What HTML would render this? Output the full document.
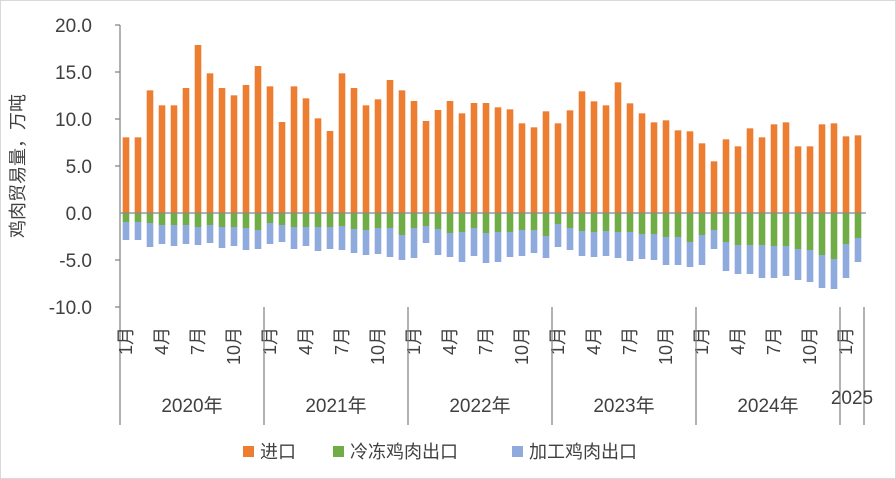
<!DOCTYPE html>
<html><head><meta charset="utf-8"><style>
html,body{margin:0;padding:0;background:#fff}
svg{display:block;font-family:"Liberation Sans","Noto Sans CJK SC",sans-serif}
</style></head><body>
<svg id="c" width="896" height="479" viewBox="0 0 896 479" xmlns="http://www.w3.org/2000/svg">
<rect x="0.5" y="0.5" width="895" height="478" fill="#fff" stroke="#d9d9d9"/>
<g font-size="19" fill="#404040" text-anchor="end">
<text x="92" y="32">20.0</text>
<text x="92" y="79">15.0</text>
<text x="92" y="126">10.0</text>
<text x="92" y="173">5.0</text>
<text x="92" y="220">0.0</text>
<text x="92" y="267">-5.0</text>
<text x="92" y="314">-10.0</text>
</g>
<text transform="translate(24,166) rotate(-90)" font-size="18" fill="#404040" text-anchor="middle">鸡肉贸易量，万吨</text>
<g id="bars"></g>
<line x1="120" y1="25" x2="120" y2="425" stroke="#888" stroke-width="1.3"/>
<g stroke="#888" stroke-width="1.3">
<line x1="115" y1="25" x2="120" y2="25"/><line x1="115" y1="72" x2="120" y2="72"/><line x1="115" y1="119" x2="120" y2="119"/><line x1="115" y1="166" x2="120" y2="166"/><line x1="115" y1="260" x2="120" y2="260"/><line x1="115" y1="307" x2="120" y2="307"/>
<line x1="120" y1="213" x2="866" y2="213"/>
</g>
<g id="xl" font-size="18" fill="#404040"></g>
<g font-size="19" fill="#404040" text-anchor="middle">
<text x="192" y="412">2020年</text><text x="336" y="412">2021年</text><text x="480" y="412">2022年</text><text x="624" y="412">2023年</text><text x="768" y="412">2024年</text><text x="852" y="404">2025</text>
</g>
<g font-size="18" fill="#404040">
<rect x="243" y="446" width="11" height="11" fill="#ed7d31"/><text x="260" y="458">进口</text>
<rect x="333" y="446" width="11" height="11" fill="#70ad47"/><text x="350" y="458">冷冻鸡肉出口</text>
<rect x="512" y="446" width="11" height="11" fill="#8faadc"/><text x="529" y="458">加工鸡肉出口</text>
</g>
</svg>
<script>
var o=[322,322,181,226,226,174,45,130,174,196,165,108,169,276,169,205,265,303,130,174,226,208,150,181,213,273,240,213,250,219,219,
232,238,280,292,244,280,241,184,214,226,157,220,250,277,271,301,304,340,394,328,349,295,322,283,277,349,349,283,280,319,316];
var g=[576,576,579,585,585,585,591,585,591,591,594,600,579,585,591,591,591,591,588,597,600,594,594,615,594,588,597,609,606,594,609,
606,606,600,600,618,582,594,603,606,603,606,606,612,612,621,621,636,615,600,636,645,645,645,648,648,657,660,675,687,642,624];
var b=[630,630,651,642,648,642,645,639,654,648,660,657,642,636,657,648,663,657,660,669,675,672,681,690,684,639,675,681,696,678,699,
696,681,678,669,684,651,660,678,681,678,684,693,687,690,705,705,711,705,657,723,732,732,744,744,738,750,756,774,777,744,696];
var s="";
function Y(z){return z/3+30;}
for(var i=0;i<62;i++){
 var cx=126+12*i,x=cx-3.3,w=6.6;
 var yo=Y(o[i]),yg=Y(g[i]),yb=Y(b[i]);
 s+='<rect x="'+x+'" y="'+yo+'" width="'+w+'" height="'+(213-yo)+'" fill="#ed7d31"/>';
 s+='<rect x="'+x+'" y="213" width="'+w+'" height="'+(yg-213)+'" fill="#70ad47"/>';
 s+='<rect x="'+x+'" y="'+yg+'" width="'+w+'" height="'+(yb-yg)+'" fill="#8faadc"/>';
}
document.getElementById("bars").innerHTML=s;
var t="";
for(var i=0;i<62;i++){
 var m=i%12; if(m%3)continue;
 var cx=126+12*i+6;
 t+='<text transform="translate('+cx+',327) rotate(-90)" text-anchor="end">'+(m+1)+'月</text>';
}
for(var k=1;k<=5;k++){var x=120+144*k;t+='<line x1="'+x+'" y1="307" x2="'+x+'" y2="425" stroke="#888" stroke-width="1.3"/>';}
t+='<line x1="864" y1="307" x2="864" y2="425" stroke="#888" stroke-width="1.3"/>';
document.getElementById("xl").innerHTML=t;
</script>
</body></html>
